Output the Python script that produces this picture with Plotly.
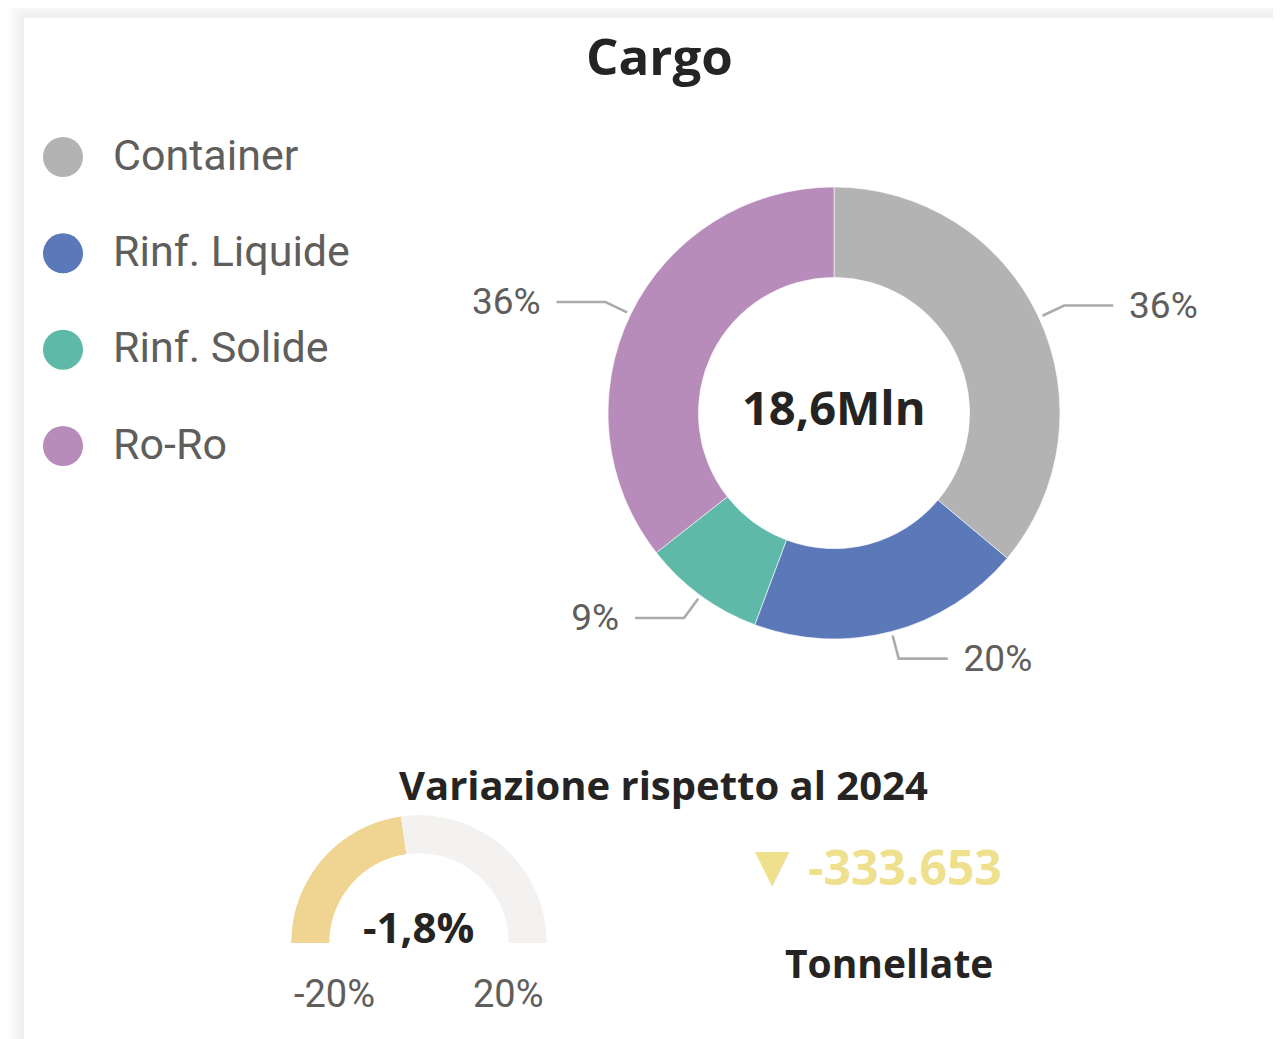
import math
import plotly.graph_objects as go

# ---------------- data ----------------
categories = ["Container", "Rinf. Liquide", "Rinf. Solide", "Ro-Ro"]
shares = [36.1, 19.6, 8.7, 35.6]
slice_colors = ["#B3B3B3", "#5B79B9", "#5FB9A8", "#B78BBA"]
total_label = "18,6Mln"
title_text = "Cargo"
variation_title = "Variazione rispetto al 2024"
variation_pct = -1.8
gauge_min, gauge_max = -20, 20
variation_tonnes = -333653
unit_label = "Tonnellate"

# ---------------- layout helpers ----------------
OFF = 8                              # default page body margin
W, H = 1281 - OFF, 1039 - OFF
def px(x):
    return (x - OFF) / W
def py(y):
    return 1 - (y - OFF) / H

CX, CY, R = 834, 413, 226          # donut centre / radius in screen pixels
GX, GY, GR = 419, 943, 128         # gauge centre / radius in screen pixels
EXT = 1.6                          # overlay axes extent (radius units)

TXT_GREY = "#605E5C"
TXT_DARK = "#252423"
LIGHT_FONT = "Roboto"
BOLD_FONT = "Open Sans"

def it_num(v, dec=0):
    s = f"{v:,.{dec}f}"
    return s.replace(",", "X").replace(".", ",").replace("X", ".")

fig = go.Figure()

# ---------------- donut ----------------
fig.add_trace(go.Pie(
    labels=categories, values=shares, sort=False, direction="clockwise", rotation=0,
    hole=0.60, marker=dict(colors=slice_colors, line=dict(color="white", width=0.6)),
    textinfo="none", showlegend=False, hoverinfo="skip",
    domain=dict(x=[px(CX - R), px(CX + R)], y=[py(CY + R), py(CY - R)]),
))

# leader lines + percentage labels, computed from the shares
total = sum(shares)
lx, ly, tx_r, ty_r, tt_r, tx_l, ty_l, tt_l = [], [], [], [], [], [], [], []
cum = 0.0
drop = 3 / R                        # small optical offset of the label text
for s in shares:
    mid = (cum + s / 2) / total
    cum += s
    th = 2 * math.pi * mid
    sx, sy = math.sin(th), math.cos(th)
    r1, r2, hl, gap = 1.018, 1.124, 0.217, 0.07
    ex, ey = sx * r2, sy * r2
    side = 1 if sx >= 0 else -1
    fx = ex + side * hl
    lx += [sx * r1, ex, fx, None]
    ly += [sy * r1, ey, ey, None]
    lab = f"{round(s / total * 100)}%"
    if side > 0:
        tx_r.append(fx + gap); ty_r.append(ey - drop); tt_r.append(lab)
    else:
        tx_l.append(fx - gap); ty_l.append(ey - drop); tt_l.append(lab)

fig.add_trace(go.Scatter(x=lx, y=ly, mode="lines", line=dict(color="#ABABAB", width=2.6),
                         xaxis="x", yaxis="y", showlegend=False, hoverinfo="skip"))
fig.add_trace(go.Scatter(x=tx_r, y=ty_r, text=tt_r, mode="text", textposition="middle right",
                         textfont=dict(family=LIGHT_FONT, size=37, color=TXT_GREY),
                         cliponaxis=False, xaxis="x", yaxis="y", showlegend=False, hoverinfo="skip"))
fig.add_trace(go.Scatter(x=tx_l, y=ty_l, text=tt_l, mode="text", textposition="middle left",
                         textfont=dict(family=LIGHT_FONT, size=37, color=TXT_GREY),
                         cliponaxis=False, xaxis="x", yaxis="y", showlegend=False, hoverinfo="skip"))

# ---------------- legend (dots + labels) ----------------
fig.add_trace(go.Scatter(x=[0] * len(categories), y=categories, mode="markers",
                         marker=dict(size=40, color=slice_colors, line=dict(width=0)),
                         xaxis="x2", yaxis="y2", showlegend=False, hoverinfo="skip",
                         cliponaxis=False))
fig.add_trace(go.Scatter(x=[50] * len(categories), y=categories, mode="text", text=categories,
                         textposition="middle right",
                         textfont=dict(family=LIGHT_FONT, size=43, color=TXT_GREY),
                         xaxis="x2", yaxis="y3", showlegend=False, hoverinfo="skip",
                         cliponaxis=False))

# ---------------- gauge ----------------
def g_angle(v):
    return (v - gauge_min) / (gauge_max - gauge_min) * 180.0

a0, a1, a2 = g_angle(gauge_min), g_angle(variation_pct), g_angle(gauge_max)
fig.add_trace(go.Barpolar(
    r=[1, 1], base=[0, 0], theta=[(a0 + a1) / 2, (a1 + a2) / 2], width=[a1 - a0, a2 - a1],
    marker=dict(color=["#F0D491", "#F3F2F1"], line=dict(width=0)),
    subplot="polar", showlegend=False, hoverinfo="skip",
))

spacing = (446 - 157) / 3
leg_top = 157 - spacing / 2
leg_bot = 446 + spacing / 2

annotations = [
    dict(text=title_text, x=px(660), y=py(55), font=dict(family=BOLD_FONT, size=51, color=TXT_DARK, weight="bold")),
    dict(text=total_label, x=px(CX), y=py(407), font=dict(family=BOLD_FONT, size=47, color=TXT_DARK, weight="bold")),
    dict(text=variation_title, x=px(663), y=py(784), font=dict(family=BOLD_FONT, size=40, color=TXT_DARK, weight="bold")),
    dict(text=it_num(variation_pct, 1) + "%", x=px(GX - 1), y=py(926),
         font=dict(family=BOLD_FONT, size=42, color=TXT_DARK, weight="bold")),
    dict(text=f"{gauge_min}%", x=px(GX - GR + 1), y=py(994), xanchor="left",
         font=dict(family=LIGHT_FONT, size=38, color=TXT_GREY)),
    dict(text=f"{gauge_max}%", x=px(GX + GR - 1), y=py(994), xanchor="right",
         font=dict(family=LIGHT_FONT, size=38, color=TXT_GREY)),
    dict(text="▼", x=px(772), y=py(865), font=dict(family="DejaVu Sans", size=45, color="#EFE08E")),
    dict(text=it_num(variation_tonnes, 0), x=px(806), y=py(866), xanchor="left",
         font=dict(family=BOLD_FONT, size=48, color="#EFE08E", weight="bold")),
    dict(text=unit_label, x=px(889), y=py(962), font=dict(family=BOLD_FONT, size=39, color=TXT_DARK, weight="bold")),
]
for a in annotations:
    a.setdefault("xanchor", "center")
    a.update(xref="paper", yref="paper", yanchor="middle", showarrow=False)

# card with soft shadow
shapes = []
for k in range(16, 0, -2):
    shapes.append(dict(type="rect", xref="paper", yref="paper",
                       x0=px(24 - k), y0=py(18 - k), x1=px(1281 + 40), y1=py(1039 + 40),
                       fillcolor="rgba(0,0,0,0.007)", line=dict(width=0), layer="below"))
shapes.append(dict(type="rect", xref="paper", yref="paper",
                   x0=px(24), y0=py(18), x1=px(1281 + 40), y1=py(1039 + 40),
                   fillcolor="white", line=dict(width=0), layer="below"))

hidden = dict(visible=False, showgrid=False, zeroline=False, fixedrange=True)
fig.update_layout(
    width=W, height=H, margin=dict(l=0, r=0, t=0, b=0),
    paper_bgcolor="white", plot_bgcolor="rgba(0,0,0,0)", hovermode=False,
    xaxis=dict(domain=[px(CX - EXT * R), px(CX + EXT * R)], range=[-EXT, EXT], **hidden),
    yaxis=dict(domain=[py(CY + EXT * R), py(CY - EXT * R)], range=[-EXT, EXT], **hidden),
    xaxis2=dict(domain=[px(0 + OFF), px(200)], range=[-63 + OFF, 137], anchor="y2", **hidden),
    yaxis2=dict(domain=[py(leg_bot), py(leg_top)], type="category",
                categoryorder="array", categoryarray=categories,
                range=[len(categories) - 0.5, -0.5], anchor="x2", **hidden),
    yaxis3=dict(domain=[py(leg_bot + 2), py(leg_top + 2)], type="category",
                categoryorder="array", categoryarray=categories,
                range=[len(categories) - 0.5, -0.5], anchor="x2", **hidden),
    polar=dict(domain=dict(x=[px(GX - GR), px(GX + GR)], y=[py(GY), py(GY - GR)]),
               sector=[0, 180], hole=0.70, bgcolor="rgba(0,0,0,0)",
               radialaxis=dict(visible=False, range=[0, 1]),
               angularaxis=dict(visible=False, direction="clockwise", rotation=180,
                                thetaunit="degrees")),
    annotations=annotations, shapes=shapes, showlegend=False,
)

fig.write_html("out.html")
